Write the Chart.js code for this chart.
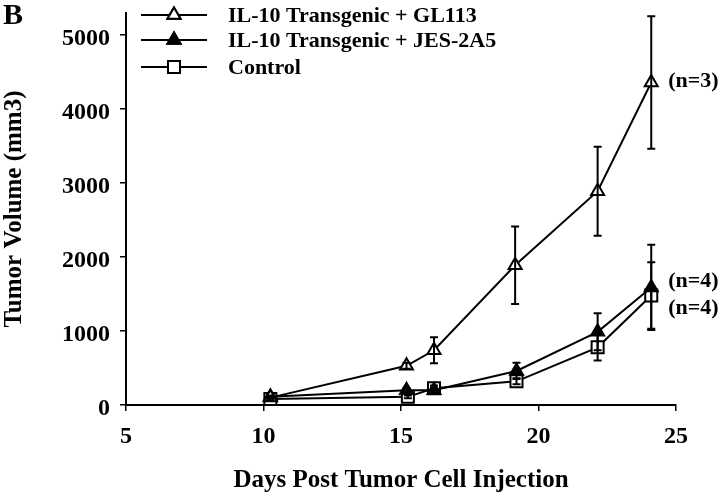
<!DOCTYPE html>
<html><head><meta charset="utf-8">
<script src="https://cdn.jsdelivr.net/npm/chart.js@4.4.1/dist/chart.umd.min.js"></script>
<style>html,body{margin:0;padding:0;background:#fff}#w{width:720px;height:496px}</style>
</head><body><div id="w"><canvas id="c" width="720" height="496"></canvas></div>
<script>
const seriesNames = ["IL-10 Transgenic + GL113", "IL-10 Transgenic + JES-2A5", "Control"];
const daysGL = [10.25, 15.2, 16.2, 19.15, 22.15, 24.1];
const daysJES = [10.25, 15.2, 16.2, 19.2, 22.15, 24.1];
const daysCtl = [10.25, 15.25, 16.2, 19.2, 22.15, 24.1];
const valGL = [100, 530, 740, 1890, 2890, 4360];
const errGL = [20, 40, 175, 525, 600, 895];
const valJES = [110, 200, 200, 460, 990, 1590];
const errJES = [20, 30, 30, 110, 250, 575];
const valCtl = [80, 110, 225, 320, 780, 1480];
const errCtl = [20, 20, 40, 40, 180, 450];
const nLabels = ["(n=3)", "(n=4)", "(n=4)"];
const xTicks = [5, 10, 15, 20, 25];
const yTicks = [0, 1000, 2000, 3000, 4000, 5000];
const panelLabel = "B";
const xTitle = "Days Post Tumor Cell Injection";
const yTitle = "Tumor Volume (mm3)";

const FONT = "'Liberation Serif', 'Times New Roman', serif";
const pts = (xs, ys) => xs.map((x, i) => ({x, y: ys[i]}));
const errs = [errGL, errJES, errCtl];

const errorBars = {
  id: 'errorBars',
  afterDatasetsDraw(chart) {
    const {ctx, scales: {x, y}} = chart;
    ctx.save();
    ctx.strokeStyle = '#000';
    ctx.lineWidth = 2;
    chart.data.datasets.forEach((ds, di) => {
      ds.data.forEach((p, i) => {
        const e = errs[di][i];
        const px = x.getPixelForValue(p.x);
        const top = y.getPixelForValue(p.y + e);
        const bot = y.getPixelForValue(Math.max(0, p.y - e));
        ctx.beginPath();
        ctx.moveTo(px, top); ctx.lineTo(px, bot);
        ctx.moveTo(px - 4, top); ctx.lineTo(px + 4, top);
        ctx.moveTo(px - 4, bot); ctx.lineTo(px + 4, bot);
        ctx.stroke();
      });
    });
    ctx.restore();
  }
};

const annotations = {
  id: 'annotations',
  afterDraw(chart) {
    const {ctx, scales: {x, y}} = chart;
    ctx.save();
    ctx.fillStyle = '#000';
    ctx.font = "bold 30px " + FONT;
    ctx.textBaseline = 'middle';
    ctx.textAlign = 'left';
    ctx.fillText(panelLabel, 3, 16);
    ctx.font = "bold 22px " + FONT;
    const offs = [-1, -6, 13];
    chart.data.datasets.forEach((ds, di) => {
      const p = ds.data[ds.data.length - 1];
      ctx.fillText(nLabels[di], x.getPixelForValue(p.x) + 17, y.getPixelForValue(p.y) + offs[di]);
    });
    const lx0 = 141, lx1 = 207, tx = 228, rows = [15, 40, 67];
    chart.data.datasets.forEach((ds, di) => {
      const yy = rows[di];
      ctx.strokeStyle = '#000'; ctx.lineWidth = 2;
      ctx.beginPath(); ctx.moveTo(lx0, yy); ctx.lineTo(lx1, yy); ctx.stroke();
      Chart.helpers.drawPoint(ctx, {pointStyle: ds.pointStyle, radius: ds.pointRadius, borderWidth: 2}, (lx0 + lx1) / 2, yy);
      ctx.fillStyle = ds.pointBackgroundColor;
      ctx.strokeStyle = '#000';
      ctx.fill(); ctx.stroke();
      ctx.fillStyle = '#000';
      ctx.font = "bold 22px " + FONT;
      ctx.fillText(ds.label, tx, yy + 1);
    });
    ctx.restore();
  }
};

const mk = (label, data, style, fill, r) => ({
  label, data, borderColor: '#000', borderWidth: 2,
  pointStyle: style, pointRadius: r, pointHoverRadius: r,
  pointBackgroundColor: fill, pointBorderColor: '#000', pointBorderWidth: 2,
  showLine: true, tension: 0
});

new Chart(document.getElementById('c'), {
  type: 'scatter',
  data: {
    datasets: [
      mk(seriesNames[0], pts(daysGL, valGL), 'triangle', '#fff', 7.5),
      mk(seriesNames[1], pts(daysJES, valJES), 'triangle', '#000', 7.5),
      mk(seriesNames[2], pts(daysCtl, valCtl), 'rect', '#fff', 8.5)
    ]
  },
  options: {
    responsive: false, animation: false,
    layout: {padding: {top: 13, right: 44, left: 0, bottom: 0}},
    plugins: {legend: {display: false}, tooltip: {enabled: false}},
    scales: {
      x: {
        type: 'linear', min: 5, max: 25,
        afterBuildTicks: s => { s.ticks = xTicks.map(v => ({value: v})); },
        afterFit: s => { s.height = 91; s.paddingLeft = 0; s.paddingRight = 0; },
        grid: {drawOnChartArea: false, color: '#000', tickLength: 6, lineWidth: 1.5},
        border: {color: '#000', width: 2},
        ticks: {color: '#000', font: {family: FONT, size: 24, weight: 'bold'}, padding: 11, maxRotation: 0,
                callback: v => String(v)},
        title: {display: true, text: xTitle, color: '#000', font: {family: FONT, size: 25, weight: 'bold'}, padding: 0}
      },
      y: {
        type: 'linear', min: 0, max: 5300,
        afterBuildTicks: s => { s.ticks = yTicks.map(v => ({value: v})); },
        afterFit: s => { s.width = 126; s.paddingTop = 0; s.paddingBottom = 0; },
        grid: {drawOnChartArea: false, color: '#000', tickLength: 6, lineWidth: 1.5},
        border: {color: '#000', width: 2},
        ticks: {color: '#000', font: {family: FONT, size: 24, weight: 'bold'}, padding: 10, labelOffset: 4,
                callback: v => String(v)},
        title: {display: true, text: yTitle, color: '#000', font: {family: FONT, size: 25, weight: 'bold'}, padding: 0}
      }
    }
  },
  plugins: [errorBars, annotations]
});
</script></body></html>
